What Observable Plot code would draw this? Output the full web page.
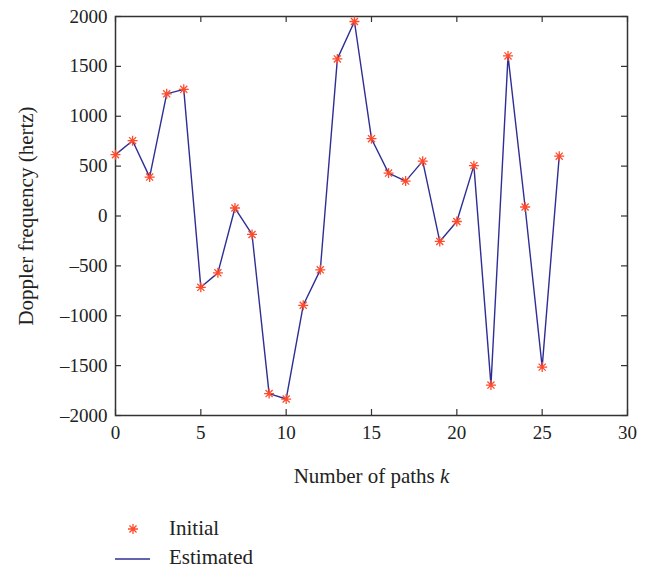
<!DOCTYPE html>
<html>
<head>
<meta charset="utf-8">
<script src="https://cdn.jsdelivr.net/npm/d3@7"></script>
<script src="https://cdn.jsdelivr.net/npm/@observablehq/plot@0.6"></script>
<style>
  body { margin: 0; background: #fff; font-family: "Liberation Serif", "DejaVu Serif", serif; }
  #chart { width: 656px; }
  #chart svg { display: block; }
</style>
</head>
<body>
<div id="chart"></div>
<svg id="legend" width="656" height="69" style="display:block" font-family="Liberation Serif, DejaVu Serif, serif" font-size="21" fill="#222">
  <g transform="translate(133,29)" stroke="#ff4b2b" stroke-width="1.3" fill="none"><path id="legsym"></path></g>
  <text x="169" y="35">Initial</text>
  <line x1="115" x2="150" y1="59" y2="59" stroke="#2e2e95" stroke-width="1.4"></line>
  <text x="169" y="64">Estimated</text>
</svg>
<script>
const paths = [0,1,2,3,4,5,6,7,8,9,10,11,12,13,14,15,16,17,18,19,20,21,22,23,24,25,26];
const doppler = [615,755,390,1225,1270,-715,-570,80,-185,-1780,-1835,-895,-540,1575,1950,775,430,350,550,-255,-55,505,-1695,1605,90,-1515,600];
const xTicks = [0,5,10,15,20,25,30];
const yTicks = [-2000,-1500,-1000,-500,0,500,1000,1500,2000];
const legendLabels = ["Initial", "Estimated"];

const data = paths.map((k, i) => ({k, v: doppler[i]}));
const font = "Liberation Serif, DejaVu Serif, serif";

// 8-spoke asterisk like MATLAB's '*'
const asterisk8 = {
  draw(ctx, size) {
    const r = Math.sqrt(size / Math.PI);
    const d = r * Math.SQRT1_2;
    ctx.moveTo(-r, 0); ctx.lineTo(r, 0);
    ctx.moveTo(0, -r); ctx.lineTo(0, r);
    ctx.moveTo(-d, -d); ctx.lineTo(d, d);
    ctx.moveTo(-d, d); ctx.lineTo(d, -d);
  }
};

const W = 656, H = 500, ML = 115, MR = 29, MT = 16, MB = 85, TK = 6;
const innerW = W - ML - MR, innerH = H - MT - MB;
const tickStyle = {stroke: "#333", strokeWidth: 1.2};

const plot = Plot.plot({
  width: W,
  height: H,
  marginLeft: ML,
  marginRight: MR,
  marginTop: MT,
  marginBottom: MB,
  style: {fontFamily: font, fontSize: "19px", color: "#222", background: "#fff"},
  x: {domain: [0, 30]},
  y: {domain: [-2000, 2000]},
  marks: [
    Plot.axisX(xTicks, {anchor: "bottom", tickSize: 0, tickPadding: 10, label: "Number of paths k", labelArrow: "none", labelAnchor: "center", labelOffset: 67}),
    Plot.axisY(yTicks, {anchor: "left", tickSize: 0, tickPadding: 8, label: "Doppler frequency (hertz)", labelArrow: "none", labelAnchor: "center", labelOffset: 97, tickFormat: d => d < 0 ? "\u2013" + Math.abs(d) : String(d)}),
    // inward tick marks on all four sides
    Plot.tickX(xTicks, {x: d => d, insetTop: innerH - TK, ...tickStyle}),
    Plot.tickX(xTicks, {x: d => d, insetBottom: innerH - TK, ...tickStyle}),
    Plot.tickY(yTicks, {y: d => d, insetRight: innerW - TK, ...tickStyle}),
    Plot.tickY(yTicks, {y: d => d, insetLeft: innerW - TK, ...tickStyle}),
    Plot.frame({stroke: "#333", strokeWidth: 1.5}),
    Plot.line(data, {x: "k", y: "v", stroke: "#2e2e95", strokeWidth: 1.4}),
    Plot.dot(data, {x: "k", y: "v", symbol: asterisk8, r: 5, stroke: "#ff4b2b", strokeWidth: 1.3})
  ]
});
document.getElementById("chart").append(plot);

// clean axis labels (strip arrows), italic k, larger label font
d3.select(plot).selectAll("text").each(function() {
  const t = d3.select(this);
  const s = t.text().replace(/[\u2190-\u2193]/g, "").trim();
  if (s === "Number of paths k") {
    t.selectAll("*").remove(); t.text(null);
    t.append("tspan").text("Number of paths ");
    t.append("tspan").attr("font-style", "italic").text("k");
    t.attr("font-size", 21);
  } else if (s === "Doppler frequency (hertz)") {
    t.selectAll("*").remove(); t.text(s);
    t.attr("font-size", 21);
  }
});
const texts = document.querySelectorAll("#legend text");
texts.forEach((el, i) => el.textContent = legendLabels[i]);
document.getElementById("legsym").setAttribute("d", (() => { const p = d3.path(); asterisk8.draw(p, 25 * Math.PI); return p.toString(); })());
</script>
</body>
</html>
